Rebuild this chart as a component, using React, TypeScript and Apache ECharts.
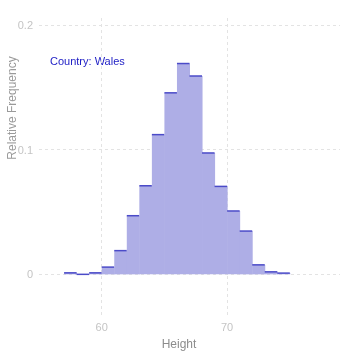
import React, { useEffect, useRef } from "react";
import * as echarts from "echarts";

const binStarts = [57, 58, 59, 60, 61, 62, 63, 64, 65, 66, 67, 68, 69, 70, 71, 72, 73, 74];
const relFreq = [0.0012, 0, 0.0012, 0.0058, 0.019, 0.047, 0.071, 0.112, 0.1455, 0.169, 0.159, 0.0973, 0.0705, 0.0508, 0.0347, 0.0076, 0.002, 0.001];
const binWidth = 1;
const xTicks = [60, 70];
const yTicks = [0, 0.1, 0.2];
const titleText = "Country: Wales";
const xName = "Height";
const yName = "Relative Frequency";

const FONT = "'Liberation Sans', Arial, sans-serif";

export default function App() {
  const ref = useRef<HTMLDivElement>(null);
  useEffect(() => {
    if (!ref.current) return;
    const chart = echarts.init(ref.current, null, { renderer: "svg" });
    const data = binStarts.map((b, i) => [b, relFreq[i]]);
    const gridLine = { show: true, lineStyle: { color: "#e3e3e3", type: [3, 3] as any, width: 1 } };
    chart.setOption({
      animation: false,
      grid: { left: 39, right: 18, top: 18, bottom: 39, containLabel: false },
      xAxis: {
        type: "value",
        min: 55,
        max: 79,
        axisLine: { show: false },
        axisTick: { show: false, customValues: xTicks },
        axisLabel: { customValues: xTicks, color: "#c4c4c4", fontSize: 11, fontFamily: FONT, margin: 3 },
        splitLine: gridLine,
      },
      yAxis: {
        type: "value",
        min: -0.035,
        max: 0.2055,
        axisLine: { show: false },
        axisTick: { show: false, customValues: yTicks },
        axisLabel: { customValues: yTicks, color: "#c4c4c4", fontSize: 11, fontFamily: FONT, margin: 6, formatter: (v: number) => String(Math.round(v * 10) / 10) },
        splitLine: gridLine,
      },
      graphic: [
        { type: "text", left: 50, top: 55, style: { text: titleText, fill: "#1c1cc4", font: `11px ${FONT}` } },
        { type: "text", x: 179, y: 344, style: { text: xName, fill: "#8c8c8c", font: `12px ${FONT}`, align: "center", verticalAlign: "middle" } },
        { type: "text", x: 12, y: 108, rotation: Math.PI / 2, style: { text: yName, fill: "#9a9a9a", font: `12px ${FONT}`, align: "center", verticalAlign: "middle" } },
      ],
      series: [
        {
          type: "custom",
          data,
          renderItem: (params: any, api: any) => {
            const x = api.value(0);
            const v = api.value(1);
            const p0 = api.coord([x, v]);
            const p1 = api.coord([x + binWidth, 0]);
            return {
              type: "group",
              children: [
                { type: "rect", shape: { x: p0[0], y: p0[1], width: p1[0] - p0[0] + 0.5, height: p1[1] - p0[1] }, style: { fill: "#aeaee6" } },
                { type: "line", shape: { x1: p0[0], y1: p0[1], x2: p1[0], y2: p0[1] }, style: { stroke: "#4b4bc8", lineWidth: 1.5 } },
              ],
            };
          },
        },
      ],
    });
    return () => chart.dispose();
  }, []);
  return <div ref={ref} style={{ position: "fixed", left: 0, top: 0, width: 358, height: 357 }} />;
}
